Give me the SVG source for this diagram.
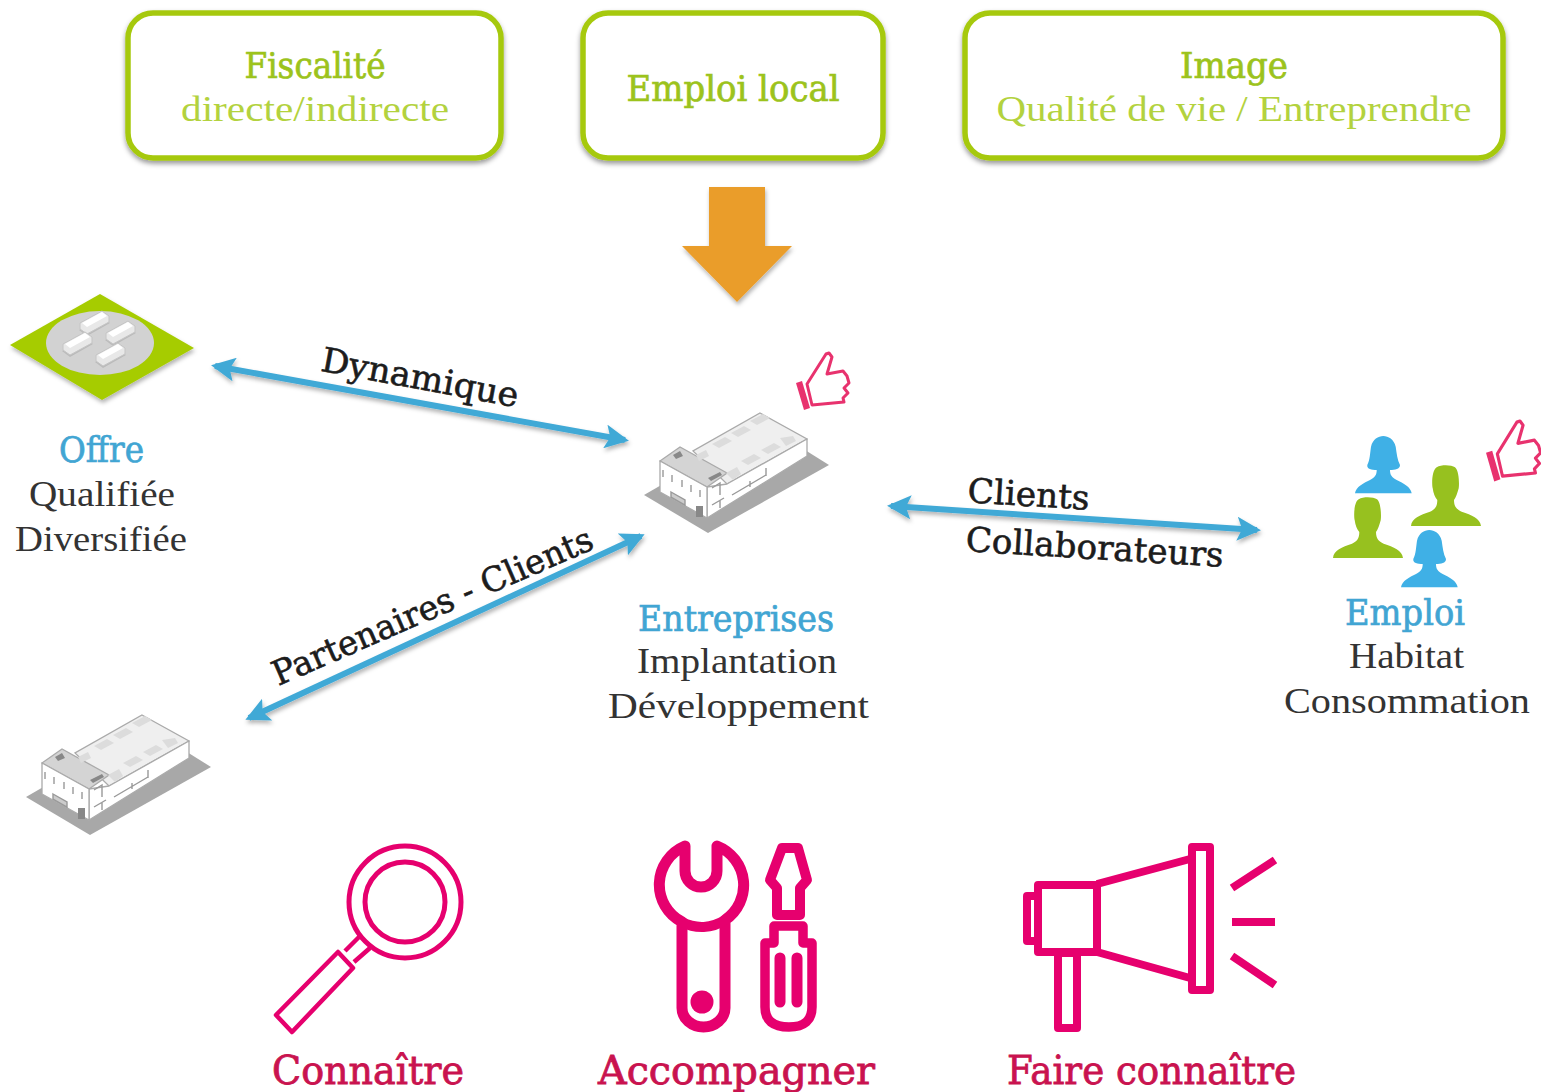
<svg xmlns="http://www.w3.org/2000/svg" xmlns:xlink="http://www.w3.org/1999/xlink" width="1541" height="1092" viewBox="0 0 1541 1092">
<style>
text{font-family:"DejaVu Serif","Liberation Serif",serif;text-anchor:middle}
.box{fill:#fff;stroke:#a6c90d;stroke-width:5.500}
.g{fill:#9cc31c;font-size:35px;stroke:#9cc31c;stroke-width:.7}
.gl{fill:#b3d23e;font-size:35px;font-family:"Liberation Serif",serif}
.b{fill:#41a5d3;font-size:35px;stroke:#41a5d3;stroke-width:.7}
.k{fill:#333;font-size:36px;font-family:"Liberation Serif",serif}
.r{fill:#1c1c1c;font-size:34px;stroke:#1c1c1c;stroke-width:.6}
.p{fill:#c9134f;font-size:39px;stroke:#c9134f;stroke-width:.8}
.pk{fill:none;stroke:#e6006e;stroke-linejoin:round}
.th{fill:none;stroke:#e8326e;stroke-width:3;stroke-linejoin:round}
.w1{fill:#fff;stroke:#aaa;stroke-width:1.3;stroke-linejoin:round}
.arr{fill:none;stroke:#41a9d6;stroke-width:6}
</style>
<defs>
<filter id="sh" x="-10%" y="-10%" width="120%" height="125%"><feDropShadow dx="0" dy="3" stdDeviation="2.5" flood-color="#000" flood-opacity=".4"/></filter>
<filter id="sa" x="-10%" y="-30%" width="120%" height="170%"><feDropShadow dx="1" dy="3" stdDeviation="2" flood-color="#000" flood-opacity=".3"/></filter>
<filter id="soft" x="-5%" y="-5%" width="110%" height="110%"><feGaussianBlur stdDeviation=".6"/></filter>
<marker id="ah" viewBox="0 0 24 24" refX="20" refY="12" markerWidth="24" markerHeight="24" markerUnits="userSpaceOnUse" orient="auto-start-reverse"><path d="M0,0 L24,12 L0,24 L5,12 Z" fill="#41a9d6"/></marker>
<g id="bld" filter="url(#soft)">
<polygon points="644,495 708,533 829,465 765,425" fill="#a8a8a8"/>
<polygon points="760,413 807,439 807,456 707,518 660,492 660,461 680,447 693,451" fill="#fff"/>
<polygon points="760,413 807,439 727,484 693,451" fill="#efefef" stroke="#aaa" stroke-width="1.3"/>
<polygon points="807,439 807,456 707,518 707,487 727,484" class="w1"/>
<polygon points="660,461 680,447 727,473 707,487" fill="#d4d4d4" stroke="#aaa" stroke-width="1.3"/>
<polygon points="660,461 707,487 707,518 660,492" class="w1"/>
<g fill="#dcdcdc"><polygon points="750,421 763,414 770,418 757,425"/><polygon points="731,433 744,426 751,430 738,437"/><polygon points="712,444 725,437 732,441 719,448"/><polygon points="780,438 793,436 796,441 786,446"/><polygon points="761,450 774,443 781,447 768,454"/><polygon points="741,461 754,454 761,458 748,465"/><polygon points="696,455 706,450 709,456 699,461"/><polygon points="726,473 737,467 741,474 733,480"/></g>
<g fill="#888"><polygon points="673,455 680,451 683,456 676,459"/><polygon points="708,478 720,472 722,475 711,481"/><rect x="696" y="506" width="7" height="11"/></g>
<g stroke="#999" stroke-width="1.4" fill="none"><path d="M663,470v7M672,475v7M682,480v7M691,485v7M700,490v7"/><path d="M671,492l14,8v5l-14,-8z" fill="#ccc"/><path d="M712,488l8,-5v12M712,505l12,-7M732,495l34,-20M750,481v6M766,476v-8M720,500v8"/></g>
</g>
<g id="thumb" filter="url(#soft)">
<polygon points="796,383 802,381 810,408 804,410" fill="#e8326e"/>
<path class="th" d="M812,405 L807,384 L826,354 L829,353 L832,357 L827,374 L843,371 L847,376 L849,383 L844,388 L848,393 L843,398 L844,402 Z"/>
</g>
<path id="fem" d="M1355,493.300 C1356,486.700 1363.300,483.300 1370,480 C1375,477.300 1376.700,475 1376.700,470 C1371.700,470 1366.700,469.300 1367.300,465 C1370,460 1370,453.300 1371,446.700 C1372.700,439.300 1378.300,436 1383.300,436 C1388.300,436 1394,439.300 1395.700,446.700 C1396.700,453.300 1397.300,460 1400,465 C1400,469.300 1395,470 1390,470 C1390,475 1391.700,477.300 1396.700,480 C1403.300,483.300 1410.700,486.700 1411.700,493.300 Z"/>
<path id="mal" d="M1411,526 C1411.700,518.300 1420,515 1430,511.700 C1435,509.300 1437.300,506.700 1437.300,500 C1435,497.300 1433.300,493.300 1432.700,488.300 C1431.700,485 1431.700,470 1436.700,467.300 C1441.700,464.300 1451.700,465 1455,467.300 C1459.300,470.700 1459.300,485 1458.700,488.300 C1457.300,493.300 1456,497.300 1454,500 C1454,506.700 1456.700,509.300 1461.700,511.700 C1471.700,515 1480,518.300 1481,526 Z"/>
<g id="mini"><polygon points="-1,15 23,3 30,8 7,21" fill="#aaa" opacity=".6"/><polygon points="0,8 22,-4 29,1 29,7 7,19 0,14" fill="#e8e8e8" stroke="#c4c4c4" stroke-width="1"/><polygon points="2,8 22,-3 27,1 7,12" fill="#fff"/></g>
</defs>

<g id="node-fiscalite">
<rect class="box" x="128" y="13" width="373" height="145" rx="25" filter="url(#sh)"/>
<text class="g" x="315" y="78" textLength="141" lengthAdjust="spacingAndGlyphs">Fiscalité</text>
<text class="gl" x="315" y="121" textLength="268" lengthAdjust="spacingAndGlyphs">directe/indirecte</text>
</g>
<g id="node-emploi-local">
<rect class="box" x="583" y="13" width="300" height="145" rx="25" filter="url(#sh)"/>
<text class="g" x="733" y="100.500" textLength="213" lengthAdjust="spacingAndGlyphs">Emploi local</text>
</g>
<g id="node-image">
<rect class="box" x="965" y="13" width="538" height="145" rx="25" filter="url(#sh)"/>
<text class="g" x="1234" y="78" textLength="108" lengthAdjust="spacingAndGlyphs">Image</text>
<text class="gl" x="1234" y="121" textLength="475" lengthAdjust="spacingAndGlyphs">Qualité de vie / Entreprendre</text>
</g>
<g id="orange-arrow">
<polygon points="709,187 765,187 765,246 792,246 737,302 682,246 709,246" fill="#ea9d2c" filter="url(#sa)"/>
</g>

<g id="connectors">
<g filter="url(#sa)">
<line class="arr" x1="215" y1="366" x2="625" y2="440" marker-start="url(#ah)" marker-end="url(#ah)"/>
<line class="arr" x1="891" y1="506" x2="1257" y2="530" marker-start="url(#ah)" marker-end="url(#ah)"/>
<line class="arr" x1="249" y1="718" x2="641" y2="536" marker-start="url(#ah)" marker-end="url(#ah)"/>
</g>
<text class="r" transform="translate(418,389) rotate(10.5)" textLength="200" lengthAdjust="spacingAndGlyphs">Dynamique</text>
<text class="r" transform="translate(1028,506) rotate(3.5)" textLength="122" lengthAdjust="spacingAndGlyphs">Clients</text>
<text class="r" transform="translate(1094,559) rotate(3.5)" textLength="258" lengthAdjust="spacingAndGlyphs">Collaborateurs</text>
<text class="r" transform="translate(437,617) rotate(-23.5)" textLength="346" lengthAdjust="spacingAndGlyphs">Partenaires - Clients</text>
</g>

<g id="node-offre">
<polygon points="100,294 194,348 102,400 10,345" fill="#a6cc00" filter="url(#sa)"/>
<ellipse cx="100" cy="343" rx="54" ry="32" fill="#d2d2d2"/>
<g filter="url(#soft)">
<use xlink:href="#mini" href="#mini" x="80" y="315"/>
<use xlink:href="#mini" href="#mini" x="63" y="336"/>
<use xlink:href="#mini" href="#mini" x="106" y="325"/>
<use xlink:href="#mini" href="#mini" x="96" y="347"/>
</g>
<text class="b" x="101.500" y="462" textLength="85" lengthAdjust="spacingAndGlyphs">Offre</text>
<text class="k" x="102" y="506" textLength="146" lengthAdjust="spacingAndGlyphs">Qualifiée</text>
<text class="k" x="101" y="551" textLength="172" lengthAdjust="spacingAndGlyphs">Diversifiée</text>
</g>

<g id="node-entreprises">
<use xlink:href="#bld" href="#bld"/>
<use xlink:href="#thumb" href="#thumb"/>
<text class="b" x="736" y="631" textLength="196" lengthAdjust="spacingAndGlyphs">Entreprises</text>
<text class="k" x="737" y="673" textLength="200" lengthAdjust="spacingAndGlyphs">Implantation</text>
<text class="k" x="738.500" y="718" textLength="261" lengthAdjust="spacingAndGlyphs">Développement</text>
</g>

<g id="node-emploi">
<use xlink:href="#fem" href="#fem" fill="#3fb0e6"/>
<use xlink:href="#mal" href="#mal" fill="#97c11f"/>
<use xlink:href="#mal" href="#mal" fill="#97c11f" x="-78" y="32"/>
<use xlink:href="#fem" href="#fem" fill="#3fb0e6" x="46" y="94"/>
<use xlink:href="#thumb" href="#thumb" transform="translate(1486,420) scale(1.03,1.06) translate(-796,-352)"/>
<text class="b" x="1405" y="625" textLength="120" lengthAdjust="spacingAndGlyphs">Emploi</text>
<text class="k" x="1406.500" y="668" textLength="115" lengthAdjust="spacingAndGlyphs">Habitat</text>
<text class="k" x="1407" y="713" textLength="246" lengthAdjust="spacingAndGlyphs">Consommation</text>
</g>

<g id="node-partenaire">
<use xlink:href="#bld" href="#bld" x="-618" y="302"/>
</g>

<g id="node-connaitre">
<circle class="pk" cx="405" cy="902" r="56" stroke-width="5"/>
<circle class="pk" cx="405" cy="902" r="40" stroke-width="5"/>
<path class="pk" stroke-width="4.500" d="M345,951 L361,935 M354,962 L370,948 M338,952 L353,968 L292,1032 L276,1015 Z"/>
<text class="p" x="368" y="1084" textLength="192" lengthAdjust="spacingAndGlyphs">Connaître</text>
</g>

<g id="node-accompagner">
<path class="pk" stroke-width="11" d="M717,846 V871 A16,16 0 0 1 685,871 V846 A42,42 0 0 0 682,922 V1008 A21.500,19 0 0 0 725,1008 V920 A42,42 0 0 0 717,846 Z"/>
<path class="pk" stroke-width="10" d="M682,922 A42,42 0 0 0 725,920"/>
<circle cx="702" cy="1002" r="11.500" fill="#e6006e"/>
<path class="pk" stroke-width="10" d="M782,848 H798 L807,880 L800,888 V915 H777 V888 L770,880 Z"/>
<path class="pk" stroke-width="9.500" d="M774,926 H803 V943 H812 V1007 Q812,1027 789,1027 Q765,1027 765,1007 V943 H774 Z"/>
<path class="pk" stroke-width="11" stroke-linecap="round" d="M780,958 V1002 M797,958 V1002"/>
<text class="p" x="736.500" y="1084" textLength="277" lengthAdjust="spacingAndGlyphs">Accompagner</text>
</g>

<g id="node-faire-connaitre">
<g class="pk" stroke-width="8" stroke-linejoin="miter">
<rect x="1038" y="885" width="59" height="67"/>
<path d="M1038,896 H1027 V941 H1038"/>
<rect x="1058" y="953" width="19" height="75"/>
<rect x="1192" y="847" width="18" height="143"/>
<path d="M1097,884 L1190,859 M1097,952 L1190,978 M1232,888 L1275,860 M1232,922 H1275 M1232,956 L1275,985"/>
</g>
<text class="p" x="1151.500" y="1084" textLength="289" lengthAdjust="spacingAndGlyphs">Faire connaître</text>
</g>
</svg>
